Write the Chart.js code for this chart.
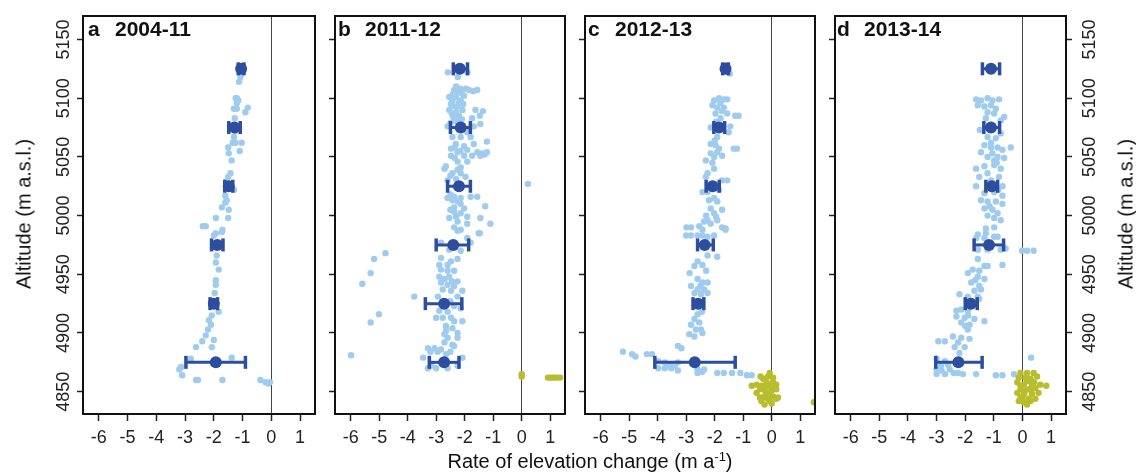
<!DOCTYPE html>
<html>
<head>
<meta charset="utf-8">
<script src="https://cdn.jsdelivr.net/npm/chart.js@4.4.1/dist/chart.umd.min.js"></script>
<style>
  body { margin: 0; background: #fff; }
  #wrap { position: relative; width: 1136px; height: 475px; font-family: "Liberation Sans", Arial, sans-serif; color: #111; }
  canvas { position: absolute; top: 0; }
  .ptitle { position: absolute; top: 18px; font-weight: bold; font-size: 21px; line-height: 21px; white-space: nowrap; }
  .ptitle .yr { position: absolute; left: 27px; }
  .ytitle { position: absolute; top: 214px; font-size: 20px; white-space: nowrap; transform: translate(-50%, -50%) rotate(-90deg); }
  .xtitle { position: absolute; left: 590px; top: 461px; font-size: 20px; white-space: nowrap; transform: translate(-50%, -50%); }
  .xtitle sup { font-size: 13px; }
</style>
</head>
<body>
<div id="wrap">
  <canvas id="cA" width="325" height="475" style="left:0px"></canvas>
  <canvas id="cB" width="250" height="475" style="left:325px"></canvas>
  <canvas id="cC" width="250" height="475" style="left:575px"></canvas>
  <canvas id="cD" width="311" height="475" style="left:825px"></canvas>
  <div class="ptitle" style="left:88px"><span>a</span><span class="yr">2004-11</span></div>
  <div class="ptitle" style="left:338px"><span>b</span><span class="yr">2011-12</span></div>
  <div class="ptitle" style="left:588px"><span>c</span><span class="yr">2012-13</span></div>
  <div class="ptitle" style="left:837px"><span>d</span><span class="yr">2013-14</span></div>
  <div class="ytitle" style="left:24px">Altitude (m a.s.l.)</div>
  <div class="ytitle" style="left:1126px">Altitude (m a.s.l.)</div>
  <div class="xtitle">Rate of elevation change (m a<sup>-1</sup>)</div>
</div>
<script>
// axes
var xTicks = [-6, -5, -4, -3, -2, -1, 0, 1];
var yTicks = [4850, 4900, 4950, 5000, 5050, 5100, 5150];
var binAlt = [4875, 4925, 4975, 5025, 5075, 5125];

// band means and their error bars (m/a), per period
var meanA = [-1.93, -2.0, -1.88, -1.48, -1.28, -1.05];
var lowA  = [-2.97, -2.13, -2.08, -1.62, -1.48, -1.15];
var highA = [-0.9, -1.87, -1.68, -1.34, -1.08, -0.95];

var meanB = [-2.72, -2.72, -2.4, -2.2, -2.14, -2.17];
var lowB  = [-3.24, -3.38, -3.0, -2.6, -2.5, -2.4];
var highB = [-2.2, -2.1, -1.86, -1.8, -1.8, -1.9];

var meanC = [-2.7, -2.58, -2.35, -2.07, -1.85, -1.62];
var lowC  = [-4.1, -2.76, -2.6, -2.3, -2.03, -1.72];
var highC = [-1.28, -2.38, -2.05, -1.84, -1.65, -1.52];

var meanD = [-2.24, -1.8, -1.17, -1.07, -1.1, -1.1];
var lowD  = [-3.03, -2.0, -1.69, -1.28, -1.35, -1.4];
var highD = [-1.41, -1.58, -0.66, -0.87, -0.8, -0.8];

// individual pixels [rate, altitude]
var ptsA = [[-1.07,5118],[-1.12,5114],[-1.24,5100],[-1.2,5100],[-1.15,5098],[-1.2,5096],[-1.2,5091],[-1.3,5091],
  [-0.82,5092],[-0.9,5088],[-1.27,5083],[-1.35,5075],[-1.25,5072],[-1.3,5067],[-1.34,5062],[-1.5,5058],[-1.24,5062],
  [-1.03,5062],[-1.1,5055],[-1.48,5053],[-1.38,5047],[-1.42,5036],[-1.5,5033],[-1.55,5029],[-1.3,5022],[-1.6,5017],
  [-1.55,5013],[-1.6,5011],[-1.72,5007],[-1.48,5005],[-1.93,4998],[-1.5,4998],[-2.38,4991],[-2.28,4991],[-2.0,4983],
  [-1.72,4986],[-1.93,4985],[-1.7,4988],[-1.93,4973],[-1.9,4966],[-1.93,4960],[-1.83,4954],[-1.93,4945],[-1.93,4941],
  [-1.97,4934],[-2.07,4927],[-1.83,4918],[-2.07,4915],[-2.17,4911],[-2.1,4907],[-2.2,4903],[-2.28,4898],[-2.0,4894],
  [-2.4,4893],[-2.62,4888],[-2.07,4888],[-2.8,4878],[-1.38,4879],[-3.14,4871],[-3.2,4869],[-3.1,4864],[-2.62,4860],
  [-2.55,4860],[-1.7,4860],[-0.38,4860],[-0.2,4858],[-0.1,4857],[-0.05,4858]];

var ptsB = [[-2.59,5122],[-1.9,5122],[-2.24,5118],[-2.37,5107],[-2.14,5108],[-1.85,5107],[-1.56,5107],[-2.25,5105],
  [-2.54,5101],[-2.31,5101],[-2.02,5102],[-2.14,5098],[-2.43,5098],[-2.48,5095],[-2.25,5093],[-2.54,5090],[-2.08,5090],
  [-1.62,5090],[-1.36,5089],[-1.47,5085],[-2.2,5085],[-1.74,5083],[-2.37,5081],[-2.6,5076],[-1.68,5076],[-1.45,5078],
  [-2.3,5110],[-2.1,5104],[-1.95,5108],[-1.7,5106],[-2.4,5104],[-2.2,5096],[-2.35,5093],[-2.05,5095],[-2.45,5087],
  [-2.3,5088],[-2.4,5084],[-2.25,5080],[-2.1,5082],[-2.5,5079],
  [-1.91,5071],[-2.43,5067],[-2.14,5067],[-1.79,5067],[-1.22,5063],[-1.68,5061],[-2.02,5059],[-2.31,5061],[-2.48,5057],
  [-2.25,5054],[-1.91,5056],[-1.56,5054],[-1.22,5054],[-2.48,5051],[-2.02,5051],[-1.74,5051],[-1.45,5051],[-2.25,5046],
  [-1.91,5046],[-2.14,5041],[-2.71,5040],[-2.66,5042],[-2.25,5039],[-2.43,5036],[-2.14,5036],[-2.6,5030],[-1.97,5033],
  [-2.35,5058],[-2.15,5055],[-1.4,5053],[-1.3,5052],[-2.35,5049],[-2.5,5034],[-2.3,5031],
  [-2.37,5016],[-2.6,5015],[-2.14,5015],[-1.79,5016],[-1.56,5016],[-2.43,5013],[-2.14,5010],[-2.37,5007],[-1.28,5008],
  [-2.02,5006],[-2.37,5003],[-2.14,5002],[-2.54,4998],[-1.91,4999],[-1.45,4998],[-2.25,4995],[-1.91,4993],[-1.1,4993],
  [-2.37,4990],[-2.14,4988],[-1.51,4985],[0.22,5027],[-2.5,5018],[-2.25,5012],[-2.5,5005],[-2.3,4999],
  [-2.25,4987],[-1.91,4981],[-1.47,4985],[-1.79,4977],[-2.83,4977],[-2.54,4971],[-2.14,4970],[-4.78,4968],[-5.18,4963],
  [-2.83,4964],[-2.48,4961],[-2.25,4963],[-2.89,4958],[-2.6,4958],[-2.83,4954],[-2.6,4953],[-2.37,4953],[-5.3,4951],
  [-2.89,4948],[-2.54,4948],[-2.25,4944],[-5.59,4942],[-2.83,4943],[-2.6,4941],[-2.37,4940],[-2.77,4937],[-2.48,4936],
  [-2.08,4936],[-3.77,4931],[-2.94,4931],[-2.25,4931],[-2.37,4923],[-2.14,4921],[-2.89,4919],[-2.6,4918],[-5.01,4916],
  [-3.0,4913],[-2.77,4913],[-2.48,4913],[-2.37,4910],[-2.08,4910],[-5.3,4909],[-2.66,4906],[-2.43,4904],[-2.25,4900],
  [-2.71,4899],[-2.6,4896],[-2.25,4896],[-2.71,4892],[-2.43,4890],[-2.37,4889],[-3.29,4887],[-3.06,4887],[-2.83,4886],
  [-5.99,4881],[-3.46,4879],[-2.08,4879],[-3.17,4872],[-3.29,4870],[-3.0,4870],[-2.6,4870],[-2.25,4872],
  [-2.7,4946],[-2.45,4944],[-2.75,4927],[-2.5,4927],[-2.65,4902],[-2.5,4884],[-2.65,4882],[-2.95,4884],[-3.2,4884]];

var ptsC = [[-1.62,5128],[-1.47,5121],[-2.02,5098],[-1.85,5100],[-1.68,5099],[-1.56,5099],[-2.08,5094],[-1.91,5092],
  [-1.68,5092],[-1.97,5087],[-1.56,5087],[-1.28,5085],[-1.16,5085],[-1.79,5083],[-1.45,5076],[-2.14,5075],[-1.51,5071],
  [-1.91,5067],[-2.14,5061],[-1.97,5060],[-1.85,5057],[-1.33,5057],[-1.22,5057],[-2.14,5053],[-1.91,5054],[-1.74,5051],
  [-2.02,5050],[-2.31,5047],[-2.08,5045],[-2.02,5040],[-2.25,5036],[-2.31,5033],[-1.74,5030],[-1.56,5030],[-2.43,5020],
  [-2.25,5020],[-1.85,5022],[-2.02,5015],[-2.2,5013],[-1.91,5012],[-1.74,5005],[-2.14,5006],[-2.02,5002],[-2.25,4996],
  [-2.37,4995],[-1.91,4996],[-2.14,4993],[-1.74,4990],[-1.62,4989],[-2.99,4990],[-2.83,4990],[-2.54,4991],[-2.43,4988],
  [-1.8,5096],[-1.75,5089],[-1.95,5080],[-2.0,5064],[-2.1,5027],[-2.3,5000],[-1.95,4999],
  [-3.0,4983],[-2.83,4983],[-2.6,4983],[-2.43,4983],[-2.25,4982],[-2.02,4983],[-1.62,4988],[-1.91,4965],[-2.25,4966],
  [-2.6,4961],[-2.43,4958],[-2.71,4957],[-2.3,4953],[-2.88,4951],[-2.6,4946],[-2.43,4943],[-2.25,4943],[-2.83,4940],
  [-2.6,4937],[-2.37,4937],[-2.71,4934],[-2.48,4933],[-2.25,4934],[-2.6,4916],[-2.71,4912],[-2.54,4909],[-2.83,4907],
  [-2.48,4903],[-2.66,4903],[-2.43,4900],[-2.89,4899],[-2.71,4897],[-3.29,4889],[-3.17,4887],[-5.22,4884],[-4.9,4882],
  [-4.78,4880],[-4.38,4882],[-4.2,4882],[-3.98,4876],[-3.75,4875],[-3.52,4873],[-3.29,4875],[-3.98,4870],[-3.75,4870],
  [-3.52,4870],[-3.29,4868],[-2.6,4869],[-2.37,4869],[-2.6,4866],[-2.43,4867],[-1.91,4866],[-1.68,4866],[-1.39,4866],
  [-1.1,4866],[-0.87,4864],[-0.7,4864],[-2.5,4940],[-2.45,4918],[-3.65,4872],[-3.4,4872]];

var ptsD = [[-1.62,5099],[-1.45,5098],[-1.22,5100],[-1.05,5098],[-0.82,5099],[-1.56,5094],[-1.33,5093],[-1.1,5094],
  [-0.93,5091],[-1.22,5088],[-0.99,5087],[-0.64,5084],[-1.28,5083],[-0.76,5081],[-1.49,5073],[-0.76,5070],[-1.22,5067],
  [-0.93,5066],[-1.33,5060],[-1.1,5058],[-0.87,5058],[-0.41,5058],[-1.45,5054],[-1.05,5053],[-0.7,5056],[-1.22,5050],
  [-0.87,5050],[-0.99,5047],[-0.64,5049],[-1.62,5040],[-1.33,5042],[-0.99,5043],[-0.76,5040],[-1.51,5033],[-1.22,5036],
  [-0.82,5033],[-1.62,5025],[-0.7,5025],[-1.33,5019],[-0.99,5020],[-0.7,5017],[-1.45,5013],[-1.22,5012],[-0.93,5012],
  [-0.7,5010],[-1.33,5006],[-1.05,5005],[-0.87,5002],[-1.22,5000],[-0.99,4998],[-0.76,4996],[-1.28,4989],[-0.99,4990],
  [-1.62,4981],[-1.33,4981],[-0.99,4982],[-1.1,5062],[-0.9,5045],[-1.1,5030],[-0.85,5022],[-1.15,5008],
  [-1.56,4984],[-1.28,4985],[-0.87,4982],[-1.56,4971],[-1.22,4971],[-0.76,4971],[-0.59,4972],[-0.01,4970],[0.16,4970],
  [0.39,4970],[-0.7,4958],[-1.56,4963],[-1.33,4957],[-1.22,4957],[-1.74,4954],[-1.51,4953],[-1.91,4951],[-1.56,4948],
  [-1.33,4946],[-1.79,4943],[-1.51,4940],[-1.68,4936],[-1.45,4937],[-2.2,4933],[-1.91,4931],[-1.56,4931],[-1.51,4929],
  [-2.14,4920],[-1.91,4919],[-2.31,4919],[-2.31,4914],[-2.02,4913],[-1.68,4912],[-1.33,4910],[-2.14,4909],[-1.85,4907],
  [-1.91,4903],[-2.43,4897],[-2.14,4896],[-1.85,4895],[-2.94,4893],[-2.71,4893],[-2.25,4892],[-2.37,4888],[-2.02,4888],
  [-2.2,4883],[-3.0,4878],[-2.71,4876],[-2.6,4873],[-3.0,4869],[-2.83,4868],[-2.54,4869],[-2.25,4866],[-3.0,4865],
  [-2.71,4865],[-2.08,4865],[-1.62,4865],[-0.93,4864],[-0.7,4864],[-0.3,4865],[0.3,4879],
  [-1.65,4945],[-1.9,4915],[-2.0,4906],[-2.85,4872],[-2.4,4866]];

// debris-covered tongue pixels
var debrisB = [[0.0,4863],[0.0,4865],[0.92,4862],[1.0,4862],[1.08,4862],[1.15,4862],[1.25,4862],[1.35,4862]];
var debrisC = [[-0.39,4863],[-0.7,4855],[-0.07,4866],[-0.3,4861],[0.05,4862],[-0.53,4856],[-0.36,4855],[-0.07,4855],
  [0.16,4856],[-0.24,4851],[-0.01,4851],[0.16,4852],[-0.53,4849],[-0.18,4848],[0.05,4846],[-0.41,4845],[-0.13,4844],
  [0.16,4844],[-0.36,4842],[-0.07,4842],[0.22,4845],[-0.24,4846],[0.05,4858],[-0.18,4858],[-0.41,4852],[-0.13,4863],
  [0.1,4853],[-0.3,4845],[-0.2,4855],[-0.1,4849],[0.0,4840],[-0.25,4839],[1.48,4841]];
var debrisD = [[-0.07,4866],[0.16,4866],[0.39,4866],[-0.13,4862],[0.1,4862],[0.28,4861],[0.51,4863],[-0.18,4858],
  [0.05,4856],[0.33,4857],[0.62,4856],[0.83,4855],[-0.07,4852],[0.22,4852],[0.45,4853],[-0.18,4849],[0.05,4848],
  [0.33,4848],[0.56,4849],[-0.07,4845],[0.22,4844],[0.45,4844],[0.05,4841],[0.28,4842],[-0.13,4842],[0.16,4839],
  [-0.07,4855],[0.16,4859],[0.1,4851],[0.3,4853],[0.0,4845],[0.4,4858]];

var FONT = '"Liberation Sans", Arial, sans-serif';
var LIGHT = "#9fcbee";
var DARK = "#2d4d9f";
var GREEN = "#b7bd2c";
var X_MIN = -6.55, X_MAX = 1.52, Y_MIN = 4831, Y_MAX = 5170;

var frame = {
    id: "frame",
    afterDraw: function(chart) {
        var a = chart.chartArea, ctx = chart.ctx;
        ctx.save();
        ctx.strokeStyle = "#111";
        ctx.lineWidth = 2;
        ctx.strokeRect(a.left, a.top, a.right - a.left, a.bottom - a.top);
        ctx.restore();
    }
};

function toXY(list) {
    return list.map(function(p) { return { x: p[0], y: p[1] }; });
}

function yAxis(side, width, labels, pad) {
    return {
        type: "linear", position: side, min: Y_MIN, max: Y_MAX,
        afterBuildTicks: function(s) { s.ticks = yTicks.map(function(v) { return { value: v }; }); },
        afterFit: function(s) { s.width = width; },
        border: { display: false },
        grid: { drawOnChartArea: false, drawTicks: true, tickLength: 6, tickColor: "#222", tickWidth: 1.5 },
        ticks: {
            display: labels, minRotation: 90, maxRotation: 90, crossAlign: "center", padding: pad,
            color: "#222", font: { family: FONT, size: 18 },
            callback: function(v) { return String(v); }
        }
    };
}

function buildPanel(id, pts, debris, mean, low, high, leftW, leftLabels, rightPad, rightAxis) {
    var datasets = [];
    datasets.push({
        data: mean.map(function(m, i) { return { x: m, y: binAlt[i] }; }),
        pointRadius: 6, pointBackgroundColor: DARK, pointBorderWidth: 0
    });
    mean.forEach(function(m, i) {
        datasets.push({
            data: [{ x: low[i], y: binAlt[i] }, { x: high[i], y: binAlt[i] }],
            showLine: true, borderColor: DARK, borderWidth: 3,
            pointStyle: "line", pointRotation: 90, pointRadius: 6.5,
            pointBorderColor: DARK, pointBorderWidth: 3.5
        });
    });
    if (debris) {
        datasets.push({ data: toXY(debris), pointRadius: 3.2, pointBackgroundColor: GREEN, pointBorderWidth: 0 });
    }
    datasets.push({ data: toXY(pts), pointRadius: 3.2, pointBackgroundColor: LIGHT, pointBorderWidth: 0 });

    var scales = {
        x: {
            type: "linear", min: X_MIN, max: X_MAX,
            afterBuildTicks: function(s) { s.ticks = xTicks.map(function(v) { return { value: v }; }); },
            afterFit: function(s) { s.height = 61; },
            border: { display: false },
            grid: {
                drawOnChartArea: true, drawTicks: true, tickLength: 7, tickColor: "#222", tickWidth: 1.5,
                lineWidth: 1,
                color: function(c) { return c.tick && c.tick.value === 0 ? "#444" : "rgba(0,0,0,0)"; }
            },
            ticks: {
                color: "#222", padding: 6, maxRotation: 0, autoSkip: false,
                font: { family: FONT, size: 18 },
                callback: function(v) { return String(v); }
            }
        },
        y: yAxis("left", leftW, leftLabels, -7)
    };
    if (rightAxis) scales.y2 = yAxis("right", 70, true, -2);

    new Chart(document.getElementById(id), {
        type: "scatter",
        data: { datasets: datasets },
        options: {
            responsive: false,
            animation: false,
            events: [],
            layout: { padding: { top: 16, right: rightPad, left: 0, bottom: 0 } },
            plugins: { legend: { display: false }, tooltip: { enabled: false } },
            scales: scales
        },
        plugins: [frame]
    });
}

buildPanel("cA", ptsA, null, meanA, lowA, highA, 83, true, 8, false);
buildPanel("cB", ptsB, debrisB, meanB, lowB, highB, 8, false, 8, false);
buildPanel("cC", ptsC, debrisC, meanC, lowC, highC, 8, false, 8, false);
buildPanel("cD", ptsD, debrisD, meanD, lowD, highD, 7, false, 0, true);
</script>
</body>
</html>
